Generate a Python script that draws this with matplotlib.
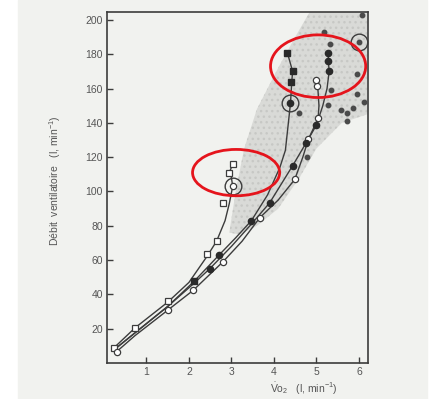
import numpy as np
import matplotlib.pyplot as plt
from matplotlib.patches import Ellipse, Polygon

# curve traces (x = VO2 l/min, y = ventilation l/min)
sq_line_x = [0.24, 0.73, 1.5, 2.0, 2.42, 2.65, 2.85, 2.95, 3.03, 3.0, 2.95, 3.03]
sq_line_y = [9, 20.5, 35.5, 47, 62, 71, 83, 93, 103, 108, 111, 116]
a_line_x = [0.25, 0.7, 1.5, 2.12, 2.71, 3.1, 3.47, 3.85, 4.14, 4.27, 4.34, 4.39, 4.42, 4.44, 4.32]
a_line_y = [8, 17, 33, 47.6, 63, 73, 83, 98, 114, 124, 140, 151.5, 164, 170, 180.5]
c_line_x = [0.25, 0.7, 1.5, 2.12, 2.49, 3.0, 3.47, 3.9, 4.44, 4.75, 5.0, 5.15, 5.25, 5.3, 5.28, 5.28]
c_line_y = [8, 17, 33, 46.5, 55, 68, 81, 93.4, 115, 128, 138.7, 150, 160, 170, 176, 181]
b_line_x = [0.3, 0.73, 1.51, 2.1, 2.8, 3.25, 3.67, 4.1, 4.49, 4.68, 4.81, 5.04, 5.06, 5.03, 5.0]
b_line_y = [6.7, 16, 31, 42.4, 59, 71, 84.8, 95, 107, 120, 130.4, 142.6, 150, 161.5, 165]

# markers
open_sq_x = [0.24, 0.73, 1.5, 2.42, 2.65, 2.81, 2.95, 3.03]
open_sq_y = [9, 20.6, 36, 63.6, 71, 93, 111, 116]
open_ci_x = [0.3, 1.51, 2.1, 2.8, 3.67, 4.49, 4.81, 5.04, 5.02, 5.0, 3.03]
open_ci_y = [6.7, 31, 42.4, 59, 84.8, 107, 130.4, 142.6, 161.5, 165, 103]
fill_ci_x = [2.49, 2.71, 3.47, 3.9, 4.44, 4.75, 5.0, 5.3, 5.28, 5.28, 4.39]
fill_ci_y = [55, 63, 83, 93.4, 115, 128, 138.7, 170, 176, 180.5, 151.5]
fill_sq_x = [2.12, 4.4, 4.45, 4.31]
fill_sq_y = [47.6, 164, 170, 180.5]
dots_x = [6.07, 5.17, 5.31, 6.0, 5.95, 5.95, 6.12, 5.87, 5.58, 5.72, 5.71, 5.34, 5.28, 4.58, 4.78]
dots_y = [203, 193, 186, 187, 168.6, 157, 152, 148.8, 147.6, 146, 140.8, 159.2, 150.5, 145.6, 120]
ring_x = [3.03, 4.39, 6.0]
ring_y = [103, 151.5, 187]

# grey band
band_x = [2.95, 3.1, 3.3, 3.6, 4.1, 4.5, 4.85, 6.2, 6.2, 5.6, 5.0, 4.6, 4.1, 3.6, 3.2]
band_y = [76, 100, 125, 148, 172, 190, 205, 205, 145, 140, 125, 108, 90, 80, 75]

xticks = [1, 2, 3, 4, 5, 6]
yticks = [20, 40, 60, 80, 100, 120, 140, 160, 180, 200]

plt.rcParams['font.family'] = ['Liberation Sans', 'DejaVu Sans']
plt.rcParams['mathtext.fontset'] = 'custom'
plt.rcParams['mathtext.rm'] = 'Liberation Sans'

bg = '#f1f2ef'
ink = '#3c3c3c'
fig = plt.figure(figsize=(4.4, 3.99), dpi=100, facecolor='white')
fig.patches.append(plt.Rectangle((0.04, 0.0), 0.93, 1.0, transform=fig.transFigure,
                                 color=bg, zorder=-10))
ax = fig.add_axes([0.243, 0.090, 0.593, 0.880])
ax.set_facecolor(bg)

ax.add_patch(Polygon(list(zip(band_x, band_y)), closed=True, facecolor='#d9dad7',
                     edgecolor='none', zorder=1))
ax.add_patch(Polygon(list(zip(band_x, band_y)), closed=True, facecolor='none',
                     edgecolor='#c7c8c5', hatch='...', linewidth=0, zorder=1))

lw = 1.0
ax.plot(sq_line_x, sq_line_y, color=ink, lw=lw, zorder=2)
ax.plot(a_line_x, a_line_y, color=ink, lw=lw, zorder=2)
ax.plot(c_line_x, c_line_y, color=ink, lw=lw, zorder=2)
ax.plot(b_line_x, b_line_y, color=ink, lw=lw, zorder=2)

ax.plot(open_sq_x, open_sq_y, 's', ms=4.5, mfc='white', mec=ink, mew=0.9, ls='none', zorder=3)
ax.plot(open_ci_x, open_ci_y, 'o', ms=4.5, mfc='white', mec=ink, mew=0.9, ls='none', zorder=3)
ax.plot(fill_ci_x, fill_ci_y, 'o', ms=4.5, color='#2a2a2a', ls='none', zorder=3)
ax.plot(fill_sq_x, fill_sq_y, 's', ms=4.2, color='#2a2a2a', ls='none', zorder=3)
ax.plot(dots_x, dots_y, 'o', ms=3.2, color='#4a4a4a', ls='none', zorder=3)
ax.plot(ring_x, ring_y, 'o', ms=12, mfc='none', mec=ink, mew=1.0, ls='none', zorder=3)

ax.add_patch(Ellipse((3.11, 111), 2.05, 27, fill=False, edgecolor='#e5141c', lw=2,
                     zorder=5, clip_on=False))
ax.add_patch(Ellipse((5.04, 173), 2.24, 36.5, fill=False, edgecolor='#e5141c', lw=2,
                     zorder=5, clip_on=False))

ax.set_xlim(0.07, 6.21)
ax.set_ylim(0, 204.6)
ax.set_xticks(xticks)
ax.set_yticks(yticks)
ax.tick_params(direction='in', length=4, width=1, color=ink, labelsize=7.5,
               labelcolor='#555555')
ax.tick_params(axis='x', pad=3)
ax.tick_params(axis='y', pad=3)
for s in ax.spines.values():
    s.set_color(ink)
    s.set_linewidth(1.2)

ax.set_ylabel('Débit  ventilatoire   (l, min$^{-1}$)', fontsize=7.5, color='#555555')
ax.yaxis.set_label_coords(-0.17, 0.52)
ax.set_xlabel(r'$\dot{\mathrm{V}}\mathrm{o}_2$   (l, min$^{-1}$)', fontsize=7.5, color='#555555')
ax.xaxis.set_label_coords(0.755, -0.052)

fig.savefig('out.png', dpi=100, facecolor=fig.get_facecolor())
